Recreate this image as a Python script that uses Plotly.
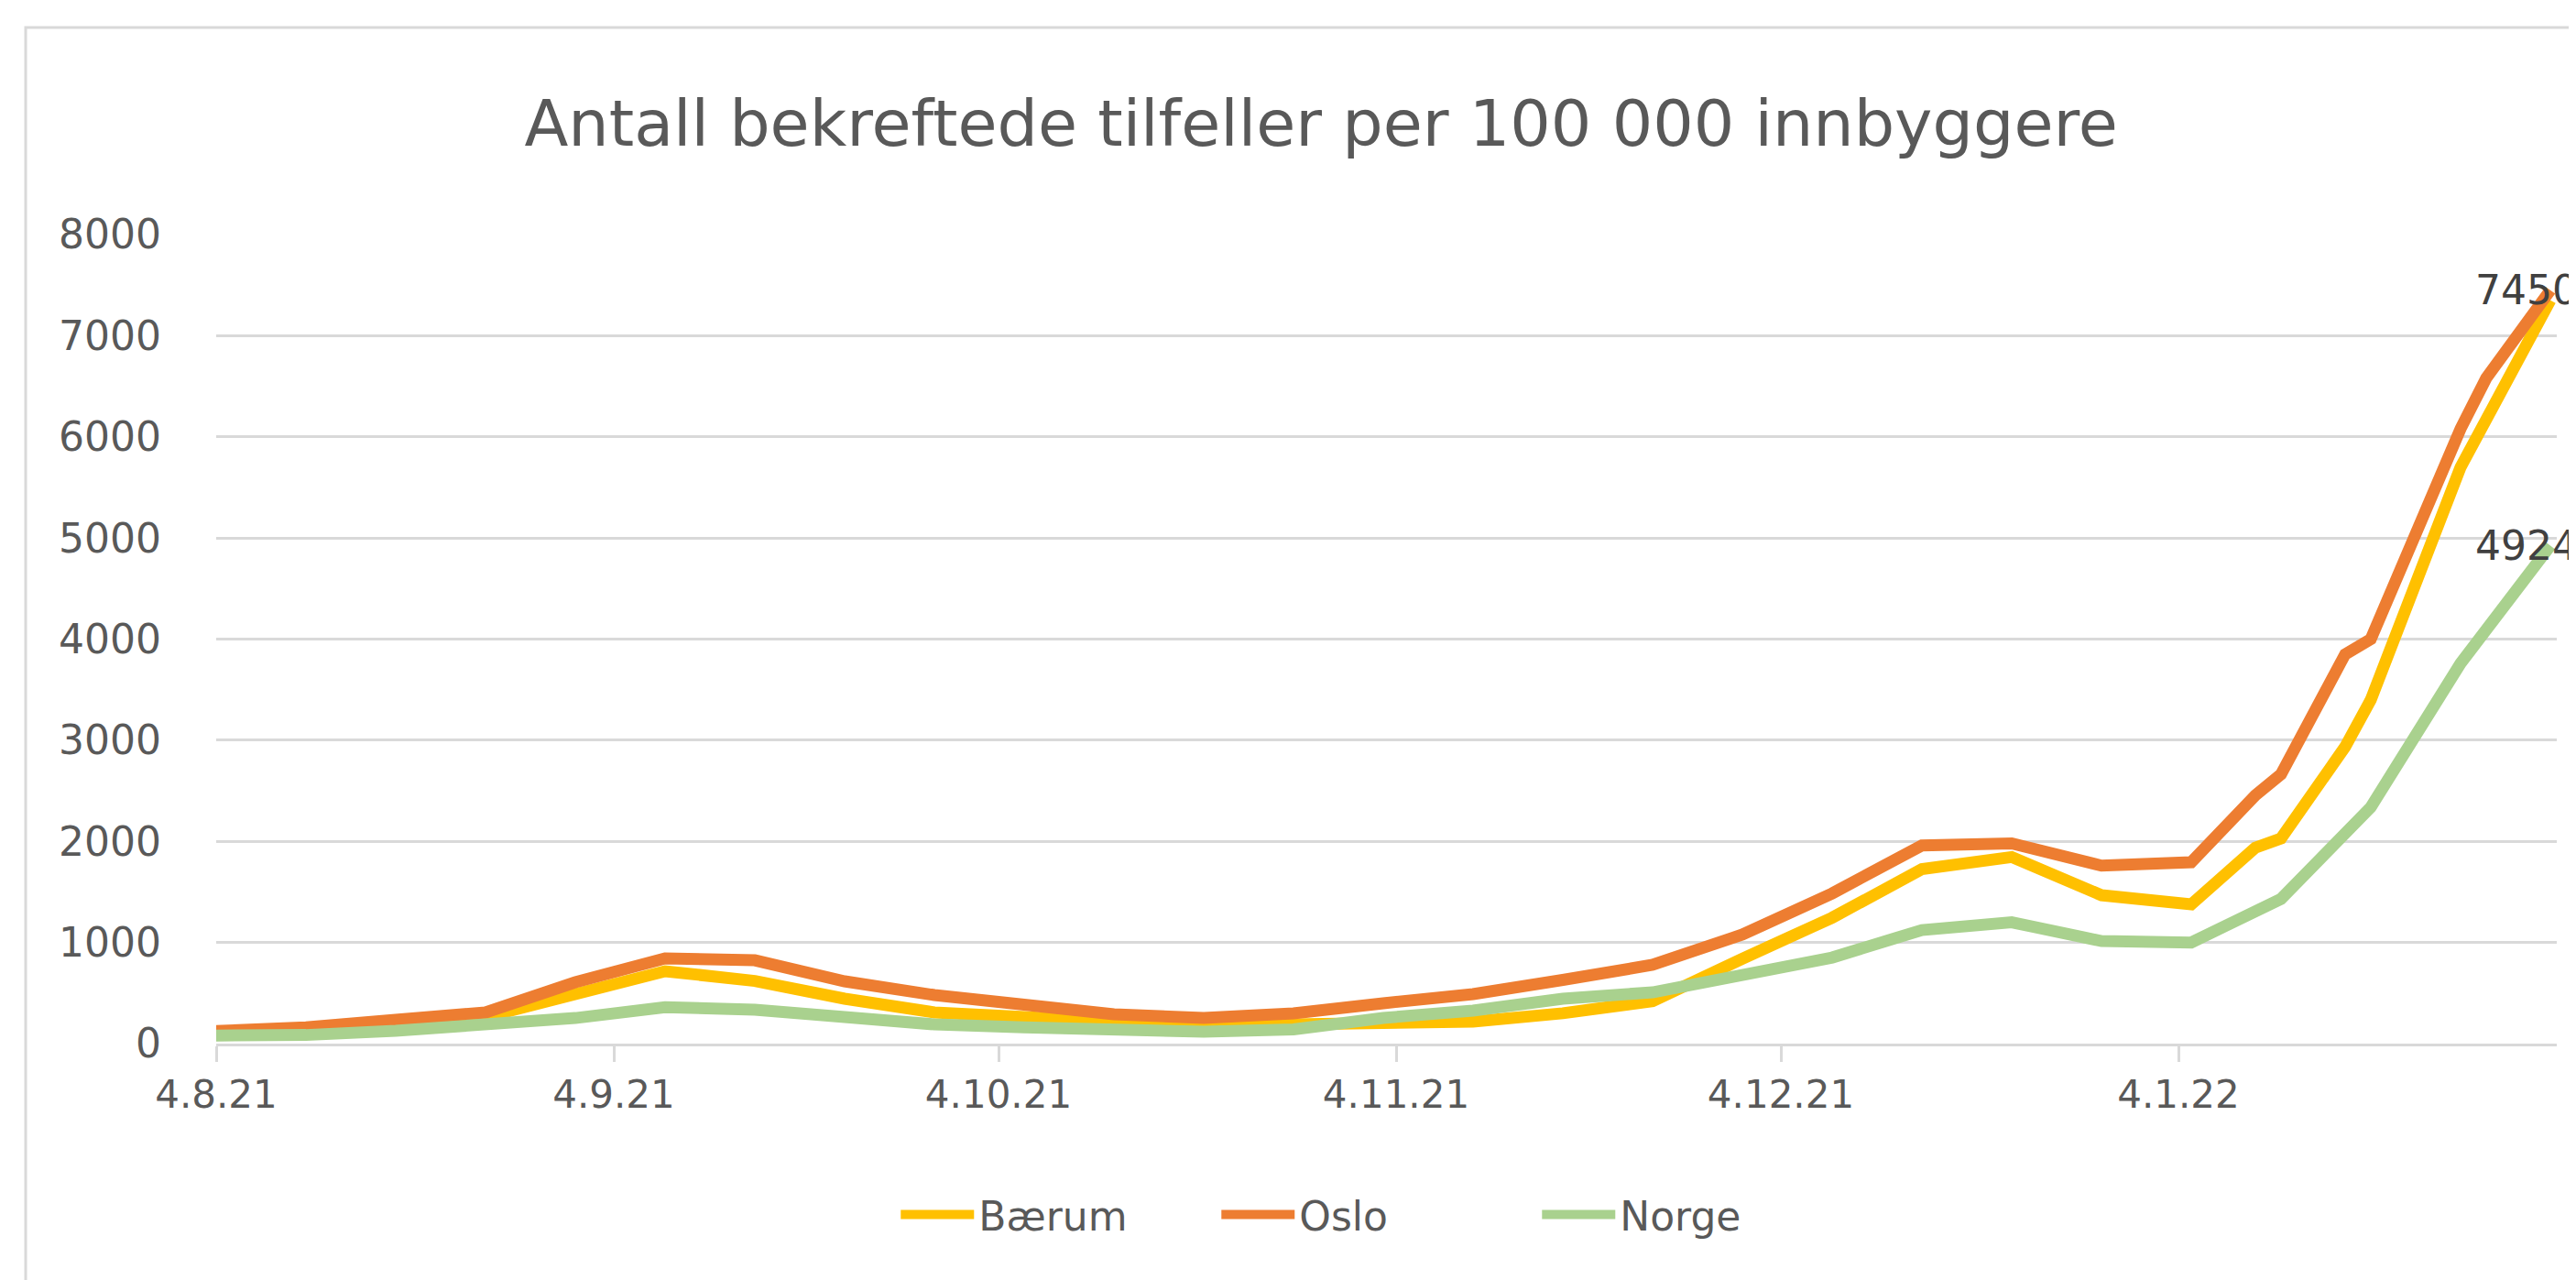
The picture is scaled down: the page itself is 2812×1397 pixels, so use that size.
import plotly.graph_objects as go

# weekly reporting dates (Wednesdays)
weeks = [
    "2021-08-04", "2021-08-11", "2021-08-18", "2021-08-25", "2021-09-01",
    "2021-09-08", "2021-09-15", "2021-09-22", "2021-09-29", "2021-10-06",
    "2021-10-13", "2021-10-20", "2021-10-27", "2021-11-03", "2021-11-10",
    "2021-11-17", "2021-11-24", "2021-12-01", "2021-12-08", "2021-12-15",
    "2021-12-22", "2021-12-29", "2022-01-05", "2022-01-12", "2022-01-19",
    "2022-01-26", "2022-02-02",
]

dates_baerum = weeks[:23] + ["2022-01-10", "2022-01-12", "2022-01-17",
                             "2022-01-19", "2022-01-26", "2022-02-02"]
baerum = [100, 118, 208, 263, 489, 716, 620, 444, 308, 263, 200, 172, 190,
          190, 217, 300, 420, 840, 1245, 1725, 1845, 1467, 1377,
          1938, 2029, 2935, 3400, 5700, 7350]

dates_oslo = weeks[:23] + ["2022-01-10", "2022-01-12", "2022-01-17",
                           "2022-01-19", "2022-01-26", "2022-01-28", "2022-02-02"]
oslo = [125, 160, 235, 308, 607, 842, 824, 616, 480, 399, 290, 254, 299,
        399, 489, 630, 779, 1078, 1485, 1960, 1980, 1760, 1793,
        2455, 2663, 3850, 4000, 6080, 6580, 7450]

dates_norge = weeks
norge = [80, 85, 127, 190, 253, 360, 335, 263, 190, 160, 125, 118, 140,
         254, 326, 444, 507, 670, 851, 1123, 1200, 1014, 1000,
         1431, 2337, 3760, 4924]

tick_dates = ["2021-08-04", "2021-09-04", "2021-10-04", "2021-11-04",
              "2021-12-04", "2022-01-04"]
tick_text = ["4.8.21", "4.9.21", "4.10.21", "4.11.21", "4.12.21", "4.1.22"]

FONT = "DejaVu Sans"
GREY = "#595959"
GRID = "#d9d9d9"

fig = go.Figure()
fig.add_trace(go.Scatter(x=dates_baerum, y=baerum, name="Bærum", mode="lines",
                         line=dict(color="#FFC000", width=13)))
fig.add_trace(go.Scatter(x=dates_oslo, y=oslo, name="Oslo", mode="lines",
                         line=dict(color="#ED7D31", width=13)))
fig.add_trace(go.Scatter(x=dates_norge, y=norge, name="Norge", mode="lines",
                         line=dict(color="#A9D18E", width=13)))

W, H = 2812, 1397
L, R, T, B = 228, 29, 248, 266
pw, ph = W - L - R, H - T - B

# data labels on the last points
labels = [dict(x=dates_oslo[-1], y=oslo[-1], text=str(oslo[-1])),
          dict(x=dates_norge[-1], y=norge[-1], text=str(norge[-1]))]
annotations = [dict(a, xref="x", yref="y", showarrow=False, xshift=-26,
                    font=dict(family=FONT, size=44, color="#404040"))
               for a in labels]

fig.update_layout(
    width=W, height=H,
    margin=dict(l=L, r=R, t=T, b=B),
    paper_bgcolor="white", plot_bgcolor="white",
    font=dict(family=FONT, size=44, color=GREY),
    title=dict(text="Antall bekreftede tilfeller per 100 000 innbyggere",
               x=0.51, xanchor="center", y=1 - 126 / H, yanchor="middle",
               font=dict(family=FONT, size=70, color=GREY)),
    legend=dict(orientation="h", x=0.496, xanchor="center",
                y=(1131 - 1318) / ph, yanchor="middle",
                font=dict(family=FONT, size=44, color=GREY),
                itemwidth=80, entrywidth=255, entrywidthmode="pixels",
                bgcolor="rgba(0,0,0,0)"),
    showlegend=True,
    annotations=annotations,
    shapes=[dict(type="rect", xref="paper", yref="paper",
                 x0=(20 - L) / pw, x1=(W + 20 - L) / pw,
                 y0=(1131 - 1420) / ph, y1=(1131 - 22) / ph,
                 line=dict(color=GRID, width=3), layer="below")],
)

fig.update_xaxes(
    type="date", range=["2021-08-04", "2022-02-02 12:00"],
    tickvals=tick_dates, ticktext=tick_text,
    ticks="outside", ticklen=17, tickwidth=3, tickcolor=GRID,
    showgrid=False, showline=True, linecolor=GRID, linewidth=3,
    ticklabelstandoff=0, tickfont=dict(family=FONT, size=42, color=GREY),
)
fig.update_yaxes(
    range=[0, 8000], dtick=1000, showgrid=True, gridcolor=GRID, gridwidth=3,
    zeroline=False, showline=False, ticks="",
    ticklabelstandoff=59, tickfont=dict(family=FONT, size=44, color=GREY),
)

fig.write_html("out.html")
